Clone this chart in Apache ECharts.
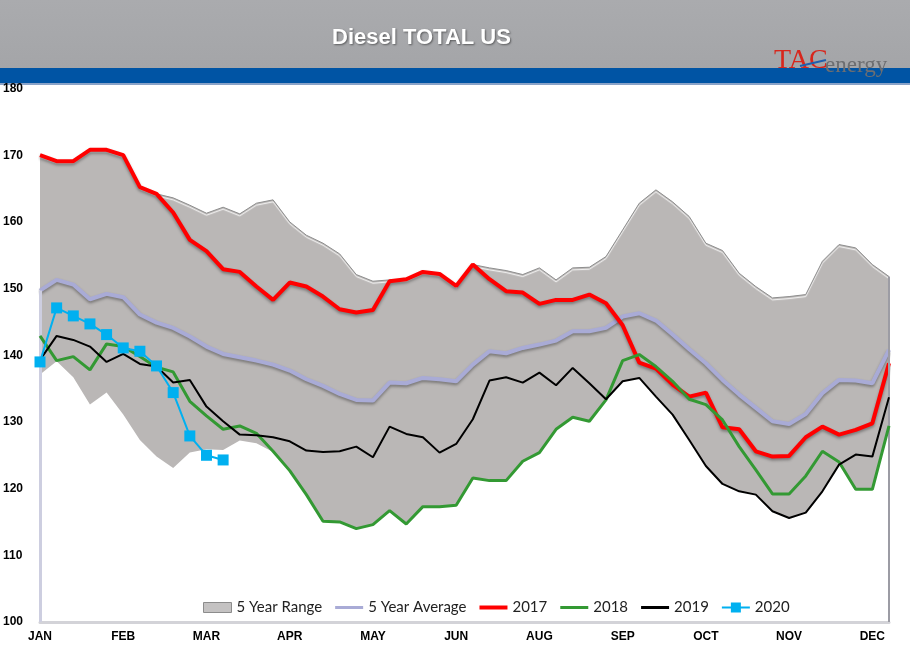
<!DOCTYPE html>
<html>
<head>
<meta charset="utf-8">
<script src="https://cdn.jsdelivr.net/npm/echarts@6/dist/echarts.min.js"></script>
<style>
html,body{margin:0;padding:0;background:#fff;}
#chart{width:910px;height:659px;}
</style>
</head>
<body>
<div id="chart"></div>
<script>
// ---- data ----
const weeks = ['W1','W2','W3','W4','W5','W6','W7','W8','W9','W10','W11','W12','W13','W14','W15','W16','W17','W18','W19','W20','W21','W22','W23','W24','W25','W26','W27','W28','W29','W30','W31','W32','W33','W34','W35','W36','W37','W38','W39','W40','W41','W42','W43','W44','W45','W46','W47','W48','W49','W50','W51','W52'];
const monthLabels = ['JAN','FEB','MAR','APR','MAY','JUN','AUG','SEP','OCT','NOV','DEC'];

const rangeLow = [137.1,139.1,136.7,132.6,134.4,131.1,127.3,124.8,123.1,125.4,125.9,125.8,127.2,126.8,125.5,122.7,119.1,115.1,115.0,114.0,114.6,116.7,114.7,117.3,117.3,117.5,121.6,121.2,121.2,124.1,125.4,128.9,130.7,130.1,133.3,136.1,136.6,133.8,131.1,127.3,123.4,120.7,119.6,119.1,116.6,115.6,116.4,119.6,123.6,119.9,119.9,129.4];
const rangeHigh = [170.0,169.1,169.1,170.8,170.8,170.0,165.2,164.2,163.6,162.5,161.3,162.2,161.2,162.8,163.3,160.0,158.0,156.8,155.2,152.1,151.1,151.3,151.4,152.5,152.2,150.4,153.6,153.1,152.7,152.1,153.1,151.3,153.1,153.2,154.8,158.8,162.8,164.8,163.0,160.8,156.8,155.7,152.3,150.3,148.6,148.8,149.1,154.1,156.6,156.1,153.6,151.8];
const avg5 = [149.7,151.3,150.6,148.4,149.2,148.7,146.1,144.9,144.1,142.8,141.3,140.2,139.7,139.2,138.6,137.7,136.4,135.4,134.2,133.3,133.2,135.9,135.8,136.6,136.4,136.1,138.6,140.6,140.3,141.1,141.6,142.2,143.6,143.6,144.1,145.8,146.3,145.2,143.1,140.9,138.8,136.3,134.1,132.1,130.1,129.7,131.2,134.3,136.3,136.2,135.8,140.8];
const y2017 = [170.0,169.1,169.1,170.8,170.8,170.0,165.2,164.2,161.4,157.3,155.6,152.9,152.5,150.3,148.3,150.9,150.3,148.8,146.9,146.4,146.8,151.1,151.4,152.5,152.2,150.4,153.6,151.4,149.6,149.4,147.7,148.3,148.3,149.1,147.8,144.5,138.9,138.0,135.6,133.8,134.4,129.2,128.9,125.6,124.8,124.9,127.7,129.3,128.1,128.8,129.8,138.8];
const y2018 = [142.9,139.2,139.8,137.8,141.7,141.3,139.8,138.2,137.5,133.1,130.9,128.9,129.4,128.3,125.6,122.7,119.1,115.1,115.0,114.0,114.6,116.7,114.7,117.3,117.3,117.5,121.6,121.2,121.2,124.1,125.4,128.9,130.7,130.1,133.3,139.2,140.1,138.3,136.1,133.4,132.6,130.3,126.3,122.8,119.2,119.2,121.9,125.6,124.0,119.9,119.9,129.4];
const y2019 = [139.3,142.9,142.3,141.3,139.0,140.2,138.7,138.3,135.9,136.3,132.3,130.1,128.1,128.0,127.7,127.1,125.7,125.5,125.6,126.3,124.7,129.3,128.2,127.7,125.4,126.7,130.4,136.2,136.7,135.9,137.4,135.5,138.1,135.8,133.4,136.1,136.6,133.8,131.1,127.3,123.4,120.7,119.6,119.1,116.6,115.6,116.4,119.6,123.6,125.1,124.8,133.7];
const y2020 = [139.0,147.1,145.9,144.7,143.1,141.1,140.6,138.4,134.4,127.9,125.0,124.3];

// ---- derived for stacking ----
const rangeSpan = rangeHigh.map((h, i) => +(h - rangeLow[i]).toFixed(2));

const chart = echarts.init(document.getElementById('chart'), null, {renderer: 'canvas'});

const shadow = {shadowColor: 'rgba(0,0,0,0.35)', shadowBlur: 3, shadowOffsetY: 2};

// legend icons (28 x 10 box)
const lineIcon = t => 'path://M0,0M28,10M0,' + (5 - t / 2) + 'h28v' + t + 'h-28z';
const markerIcon = 'path://M0,0M28,10M0,4h9v-4h10v4h9v2h-9v4h-10v-4h-9z';

const option = {
  animation: false,
  backgroundColor: '#ffffff',
  title: {
    text: 'Diesel TOTAL US',
    left: 327,
    top: 22,
    textStyle: {
      color: '#ffffff', fontSize: 22, fontWeight: 'bold',
      fontFamily: 'Liberation Sans, Arial, sans-serif',
      textShadowColor: 'rgba(0,0,0,0.45)', textShadowBlur: 2, textShadowOffsetX: 1, textShadowOffsetY: 1
    }
  },
  graphic: [
    {type: 'rect', left: 0, top: 0, z: -10, shape: {width: 910, height: 68},
      style: {fill: new echarts.graphic.LinearGradient(0, 0, 0, 1, [{offset: 0, color: '#aaabae'}, {offset: 1, color: '#a4a5a8'}])}},
    {type: 'rect', left: 0, top: 68, z: -10, shape: {width: 910, height: 15}, style: {fill: '#0054a4'}},
    {type: 'rect', left: 0, top: 83, z: -10, shape: {width: 910, height: 2}, style: {fill: '#8aa3c8'}},
    {type: 'text', left: 774, top: 47, z: 10,
      style: {text: 'TAC', fill: '#d8261c', font: '28px "Liberation Serif", serif'}},
    {type: 'text', left: 825, top: 54, z: 10,
      style: {text: 'energy', fill: '#6d6e71', font: '23px "Liberation Serif", serif'}},
    {type: 'line', z: 11, shape: {x1: 800, y1: 66, x2: 826, y2: 60},
      style: {stroke: '#1f5fae', lineWidth: 2}}
  ],
  legend: {
    left: 198,
    top: 595,
    itemWidth: 28,
    itemHeight: 10,
    itemGap: 13,
    textStyle: {fontFamily: 'Lato, "Noto Sans", sans-serif', fontSize: 15, color: '#222'},
    data: [
      {name: '5 Year Range', icon: 'rect', itemStyle: {color: '#c4c2c2', borderColor: '#8c8c8c', borderWidth: 1}},
      {name: '5 Year Average', icon: lineIcon(3), itemStyle: {color: '#a9abd6'}},
      {name: '2017', icon: lineIcon(4), itemStyle: {color: '#ff0000'}},
      {name: '2018', icon: lineIcon(3), itemStyle: {color: '#339933'}},
      {name: '2019', icon: lineIcon(3), itemStyle: {color: '#000000'}},
      {name: '2020', icon: markerIcon, itemStyle: {color: '#00b0f0'}}
    ]
  },
  grid: {left: 40, right: 21, top: 88.5, bottom: 37},
  xAxis: {
    type: 'category',
    data: weeks,
    boundaryGap: false,
    axisLine: {show: true, lineStyle: {color: '#d3d3d8', width: 3}},
    axisTick: {show: false},
    axisLabel: {
      interval: 4,
      margin: 9,
      color: '#000',
      fontWeight: 'bold',
      fontSize: 12,
      fontFamily: 'Liberation Sans, Arial, sans-serif',
      formatter: (v, i) => monthLabels[Math.floor(i / 5)] || ''
    },
    splitLine: {show: false}
  },
  yAxis: {
    type: 'value',
    min: 100, max: 180, interval: 10,
    axisLine: {show: false},
    axisTick: {show: false},
    splitLine: {show: false},
    axisLabel: {
      align: 'left', margin: 37, color: '#000', fontWeight: 'bold', fontSize: 12,
      fontFamily: 'Liberation Sans, Arial, sans-serif'
    }
  },
  series: [
    {
      name: 'rangeBase', type: 'line', stack: 'range', data: rangeLow,
      symbol: 'none', silent: true, lineStyle: {opacity: 0}, z: 1
    },
    {
      name: '5 Year Range', type: 'line', stack: 'range', data: rangeSpan,
      symbol: 'none', silent: true, z: 1,
      itemStyle: {color: '#bab7b6'},
      lineStyle: {color: '#8e8e8e', width: 1, shadowColor: 'rgba(255,255,255,0.95)', shadowBlur: 1, shadowOffsetY: 2},
      areaStyle: {color: '#bab7b6', opacity: 1},
      markLine: {
        silent: true, symbol: 'none', label: {show: false},
        lineStyle: {color: '#9c9ca4', width: 2, type: 'solid'},
        data: [[{coord: [weeks[51], 100]}, {coord: [weeks[51], rangeHigh[51]]}]]
      }
    },
    {
      name: '5 Year Average', type: 'line', data: avg5, symbol: 'none', z: 3,
      itemStyle: {color: '#a9abd6'},
      lineStyle: Object.assign({color: '#a9abd6', width: 4}, shadow),
      markLine: {
        silent: true, symbol: 'none', label: {show: false},
        lineStyle: {color: '#cdcee0', width: 3, type: 'solid'},
        data: [[{coord: [weeks[0], 100]}, {coord: [weeks[0], avg5[0]]}]]
      }
    },
    {
      name: '2017', type: 'line', data: y2017, symbol: 'none', z: 4,
      itemStyle: {color: '#ff0000'},
      lineStyle: Object.assign({color: '#ff0000', width: 4}, shadow)
    },
    {
      name: '2018', type: 'line', data: y2018, symbol: 'none', z: 5,
      itemStyle: {color: '#339933'},
      lineStyle: {color: '#339933', width: 3}
    },
    {
      name: '2019', type: 'line', data: y2019, symbol: 'none', z: 6,
      itemStyle: {color: '#000000'},
      lineStyle: {color: '#000000', width: 2}
    },
    {
      name: '2020', type: 'line', data: y2020, z: 7,
      symbol: 'rect', symbolSize: 11, showAllSymbol: true,
      itemStyle: {color: '#00b0f0'},
      lineStyle: {color: '#00b0f0', width: 2}
    }
  ]
};
chart.setOption(option);
</script>
</body>
</html>
